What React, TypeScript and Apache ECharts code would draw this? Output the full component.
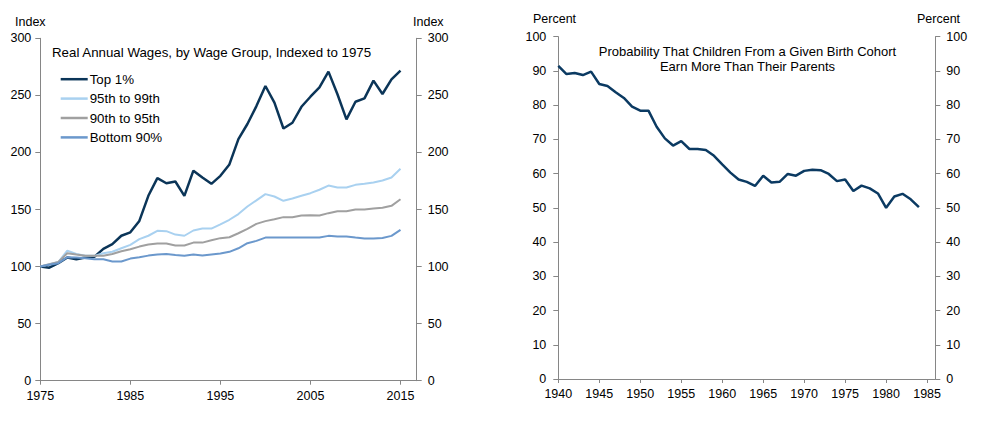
import React, { useEffect, useRef } from "react";
import * as echarts from "echarts";

const wageYears = [
  1975, 1976, 1977, 1978, 1979, 1980, 1981, 1982, 1983, 1984,
  1985, 1986, 1987, 1988, 1989, 1990, 1991, 1992, 1993, 1994,
  1995, 1996, 1997, 1998, 1999, 2000, 2001, 2002, 2003, 2004,
  2005, 2006, 2007, 2008, 2009, 2010, 2011, 2012, 2013, 2014, 2015,
];
const top1 = [
  100, 99, 103, 108, 106.4, 108, 108.5, 115.5, 119.6, 127,
  130, 140, 162, 177.5, 173, 174.5, 162, 184, 178, 172.5,
  179.5, 189.5, 211.7, 224.9, 240.6, 258.2, 243.6, 221, 226, 240,
  248.8, 257, 270.8, 251, 229, 244.4, 247.4, 262.9, 251.2, 264, 271.6,
];
const p95to99 = [
  100, 102, 104, 114, 111, 109.4, 109.4, 111.7, 113, 116,
  119, 124, 127, 131.3, 131, 128, 127, 131.6, 133.3, 133.3,
  137, 141, 146, 152.6, 158, 163.5, 161.4, 157.6, 159.6, 162,
  164.3, 167.3, 171, 169.3, 169.3, 171.6, 172.5, 173.7, 175.4, 178, 185.7,
];
const p90to95 = [
  100, 102, 104, 111.7, 110.5, 109.5, 109.5, 109.4, 111, 113.4,
  115.2, 117.5, 119.3, 120.2, 120.2, 118.4, 118.4, 121, 121, 123.1,
  124.9, 125.7, 129.2, 133, 137.4, 139.8, 141.5, 143.3, 143.3, 144.7,
  145, 144.7, 146.8, 148.5, 148.5, 150, 150, 150.9, 151.5, 153.2, 159,
];
const bottom90 = [
  100, 101.5, 103, 108.2, 108, 107.3, 106.4, 106.4, 104.4, 104.4,
  107, 108.2, 109.6, 110.5, 111.1, 110.2, 109.4, 110.5, 109.6, 110.5,
  111.4, 112.9, 116, 120.5, 122.5, 125.4, 125.4, 125.4, 125.4, 125.4,
  125.4, 125.4, 126.9, 126.3, 126.3, 125.4, 124.6, 124.6, 125.1, 126.9, 132.2,
];
const wageTickYears = [1975, 1985, 1995, 2005, 2015];
const wageSeriesNames = ["Top 1%", "95th to 99th", "90th to 95th", "Bottom 90%"];

const cohortYears = [
  1940, 1941, 1942, 1943, 1944, 1945, 1946, 1947, 1948, 1949,
  1950, 1951, 1952, 1953, 1954, 1955, 1956, 1957, 1958, 1959,
  1960, 1961, 1962, 1963, 1964, 1965, 1966, 1967, 1968, 1969,
  1970, 1971, 1972, 1973, 1974, 1975, 1976, 1977, 1978, 1979,
  1980, 1981, 1982, 1983, 1984,
];
const earnMore = [
  91.5, 89.1, 89.4, 88.8, 89.8, 86.2, 85.6, 83.8, 82.1, 79.6,
  78.4, 78.4, 73.7, 70.3, 68.2, 69.5, 67.2, 67.2, 66.9, 65.2,
  62.7, 60.3, 58.3, 57.6, 56.4, 59.4, 57.4, 57.6, 59.9, 59.4,
  60.8, 61.1, 61.0, 59.9, 57.8, 58.3, 54.9, 56.5, 55.7, 54.2,
  50.0, 53.3, 54.1, 52.5, 50.2,
];
const cohortTickYears = [1940, 1945, 1950, 1955, 1960, 1965, 1970, 1975, 1980, 1985];

const FONT = "'Liberation Sans', Arial, sans-serif";
const AXIS = "#868686";
const TXT = "#000000";
const COLORS = ["#0b3558", "#a9d1f0", "#a0a0a0", "#6b98cc"];

const pairs = (xs: number[], ys: number[]) => xs.map((x, i) => [x, ys[i]]);

export default function App() {
  const ref = useRef<HTMLDivElement>(null);
  useEffect(() => {
    document.body.style.margin = "0";
    if (!ref.current) return;
    const chart = echarts.init(ref.current, null, { renderer: "svg" });

    const xAxisBase = (grid: number, min: number, max: number, ticks: number[], margin: number) => ({
      type: "value",
      gridIndex: grid,
      min,
      max,
      axisLine: { show: true, onZero: false, lineStyle: { color: AXIS, width: 1 } },
      axisTick: { show: true, customValues: ticks, length: 4, lineStyle: { color: AXIS } },
      axisLabel: {
        customValues: ticks,
        margin,
        fontSize: 12.5,
        fontFamily: FONT,
        color: TXT,
        formatter: (v: number) => String(v),
      },
      splitLine: { show: false },
    });
    const yAxisBase = (grid: number, pos: string, max: number, interval: number, margin: number, fs: number) => ({
      type: "value",
      gridIndex: grid,
      position: pos,
      min: 0,
      max,
      interval,
      axisLine: { show: true, lineStyle: { color: AXIS, width: 1 } },
      axisTick: { show: true, length: 5, lineStyle: { color: AXIS } },
      axisLabel: { margin, fontSize: fs, fontFamily: FONT, color: TXT },
      splitLine: { show: false },
    });

    const wageData = [top1, p95to99, p90to95, bottom90];

    const option: any = {
      animation: false,
      textStyle: { fontFamily: FONT },
      grid: [
        { left: 40.3, top: 38.3, width: 376.4, height: 342.4 },
        { left: 558.3, top: 36.7, width: 377, height: 342.3 },
      ],
      xAxis: [
        xAxisBase(0, 1975, 2016.8, wageTickYears, 9),
        xAxisBase(1, 1940, 1986, cohortTickYears, 8),
      ],
      yAxis: [
        yAxisBase(0, "left", 300, 50, 9, 12.5),
        yAxisBase(0, "right", 300, 50, 11, 12.5),
        yAxisBase(1, "left", 100, 10, 12, 12.5),
        yAxisBase(1, "right", 100, 10, 11, 12.5),
      ],
      legend: {
        data: wageSeriesNames,
        orient: "vertical",
        left: 60.7,
        top: 69.5,
        icon: "rect",
        itemWidth: 27,
        itemHeight: 2.5,
        itemGap: 0,
        padding: 0,
        textStyle: { fontSize: 13.3, fontFamily: FONT, color: TXT, lineHeight: 19.4, padding: [0, 0, 0, -3] },
      },
      series: [
        ...wageSeriesNames.map((name, i) => ({
          name,
          type: "line",
          xAxisIndex: 0,
          yAxisIndex: 0,
          data: pairs(wageYears, wageData[i]),
          showSymbol: false,
          symbol: "none",
          lineStyle: { color: COLORS[i], width: i === 0 ? 2.5 : 2 },
          itemStyle: { color: COLORS[i] },
          z: 2,
        })),
        {
          name: "Probability",
          type: "line",
          xAxisIndex: 1,
          yAxisIndex: 2,
          data: pairs(cohortYears, earnMore),
          showSymbol: false,
          symbol: "none",
          lineStyle: { color: "#0b3a62", width: 2.5 },
          itemStyle: { color: "#0b3a62" },
        },
      ],
      graphic: [
        { type: "text", left: 15, top: 15, style: { text: "Index", fontSize: 12.5, fontFamily: FONT, fill: TXT } },
        { type: "text", left: 413, top: 15, style: { text: "Index", fontSize: 12.5, fontFamily: FONT, fill: TXT } },
        { type: "text", left: 533, top: 12, style: { text: "Percent", fontSize: 12.5, fontFamily: FONT, fill: TXT } },
        { type: "text", left: 917, top: 12, style: { text: "Percent", fontSize: 12.5, fontFamily: FONT, fill: TXT } },
        {
          type: "text",
          left: 52,
          top: 46,
          style: { text: "Real Annual Wages, by Wage Group, Indexed to 1975", fontSize: 13.3, fontFamily: FONT, fill: TXT },
        },
        {
          type: "text",
          x: 747.5,
          y: 44,
          style: {
            text: "Probability That Children From a Given Birth Cohort\nEarn More Than Their Parents",
            fontSize: 13,
            lineHeight: 15,
            fontFamily: FONT,
            fill: TXT,
            align: "center",
          },
        },
      ],
    };
    chart.setOption(option);
    return () => chart.dispose();
  }, []);
  return <div ref={ref} style={{ width: 985, height: 421 }} />;
}
